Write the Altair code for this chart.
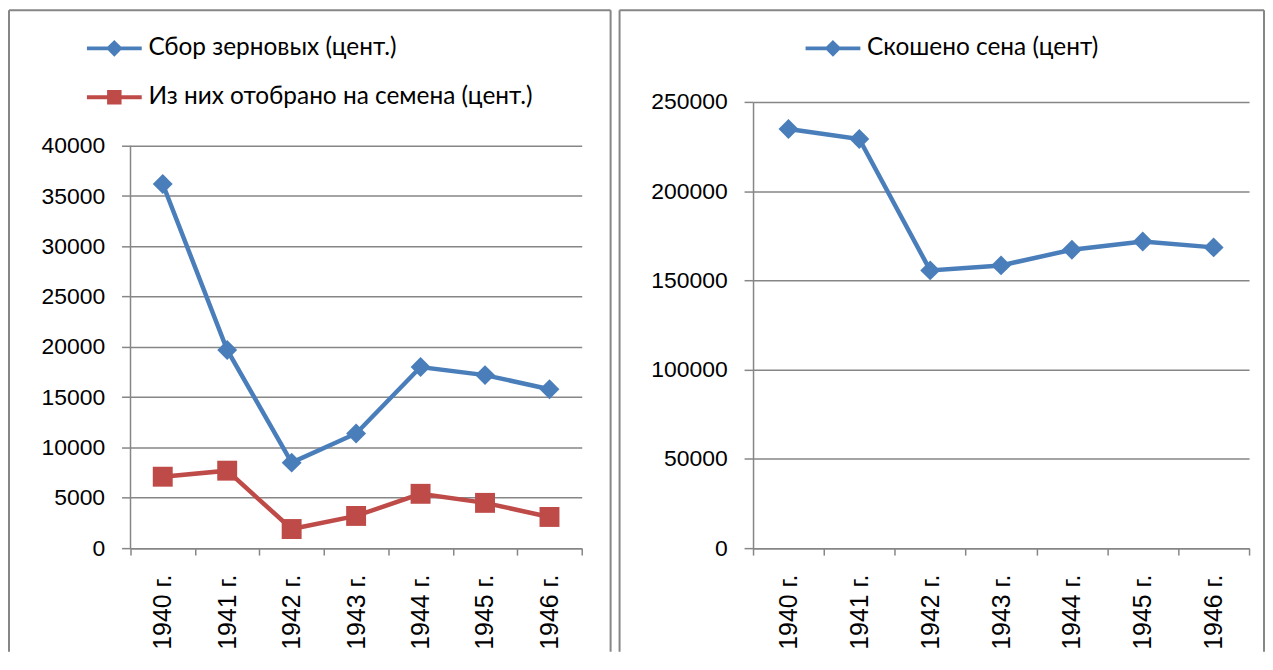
import altair as alt
import pandas as pd

# ---- data ----
years = ["1940 г.", "1941 г.", "1942 г.", "1943 г.", "1944 г.", "1945 г.", "1946 г."]
grain = [36200, 19700, 8500, 11400, 18000, 17200, 15800]
seeds = [7100, 7700, 1900, 3200, 5400, 4500, 3100]
hay = [234800, 229200, 155600, 158400, 167200, 171800, 168500]

s_grain = "Сбор зерновых (цент.)"
s_seeds = "Из них отобрано на семена (цент.)"
s_hay = "Скошено сена (цент)"

left_ticks = [0, 5000, 10000, 15000, 20000, 25000, 30000, 35000, 40000]
right_ticks = [0, 50000, 100000, 150000, 200000, 250000]
left_axis_top = 40000
# the left plot is drawn on the same 448px height as the right one; its scale
# tops out above 40000 so that 40000 sits 404px above zero, as in the picture
left_scale_max = 44356
right_scale_max = 250000

# ---- styles ----
BLUE = "#4A7EBB"
RED = "#BE4B48"
GRID = "#868686"
AXIS_FONT = "Liberation Sans"
LEG_FONT = "Lato"

P_DIAMOND = "M-3.93,0H3.93M0,-0.8L0.8,0L0,0.8L-0.8,0Z"
P_SQUARE = "M-3.93,0H3.93M-0.75,-0.75H0.75V0.75H-0.75Z"

frame_df = pd.DataFrame({"f": [0]})


def x_enc():
    return alt.X(
        "year:N", sort=years, bandPosition=0.5,
        scale=alt.Scale(type="band", paddingInner=0, paddingOuter=0),
        axis=alt.Axis(title=None, labelAngle=270, tickBand="extent", tickSize=7,
                      labelPadding=19, grid=False, labelFont=AXIS_FONT,
                      labelFontSize=25, labelColor="black", domainColor=GRID,
                      tickColor=GRID, labelOverlap=False),
    )


def y_enc(maxv, ticks, domain=True):
    return alt.Y(
        "value:Q",
        scale=alt.Scale(domain=[0, maxv], nice=False, zero=True),
        axis=alt.Axis(title=None, values=ticks, format="d", tickSize=9,
                      labelPadding=17, grid=True, gridColor=GRID, domain=domain,
                      domainColor=GRID, tickColor=GRID, labelFont=AXIS_FONT,
                      labelFontSize=23, labelColor="black"),
    )


def frame(left, right, top, bottom):
    base = alt.Chart(frame_df)
    top_r = base.mark_rule(color=GRID, strokeWidth=2).encode(
        x=alt.value(left), x2=alt.value(right), y=alt.value(top))
    l_r = base.mark_rule(color=GRID, strokeWidth=2).encode(
        x=alt.value(left), y=alt.value(top), y2=alt.value(bottom))
    r_r = base.mark_rule(color=GRID, strokeWidth=2).encode(
        x=alt.value(right), y=alt.value(top), y2=alt.value(bottom))
    return top_r + l_r + r_r


def series(values, name, col, shape, path, maxv, ticks, lx, ly, domain=True):
    df = pd.DataFrame({"year": years, "value": values, "series": [name] * len(years)})
    line = alt.Chart(df).mark_line(color=col, strokeWidth=4.5).encode(
        x=x_enc(), y=y_enc(maxv, ticks, domain))
    leg = alt.Legend(
        orient="none", legendX=lx, legendY=ly, direction="vertical", title=None,
        symbolType=path, symbolSize=196, symbolFillColor=col,
        symbolStrokeColor=col, symbolStrokeWidth=4, symbolOpacity=1,
        labelOffset=22, labelFont=LEG_FONT, labelFontSize=24.5,
        labelColor="black", padding=0, labelLimit=0)
    pts = alt.Chart(df).mark_point(filled=True, size=400, opacity=1, shape=shape).encode(
        x=x_enc(), y=y_enc(maxv, ticks, domain),
        color=alt.Color("series:N", scale=alt.Scale(domain=[name], range=[col]),
                        legend=leg))
    return line + pts


left_axis_line = alt.Chart(frame_df).mark_rule(color=GRID, strokeWidth=1.5).encode(
    x=alt.value(0), y=alt.datum(0), y2=alt.datum(left_axis_top))

left = alt.layer(
    frame(-122, 482, -92, 552),
    left_axis_line,
    series(grain, s_grain, BLUE, "diamond", P_DIAMOND, left_scale_max, left_ticks,
           -28.5, -66, domain=False),
    series(seeds, s_seeds, RED, "square", P_SQUARE, left_scale_max, left_ticks,
           -28.5, -17, domain=False),
).resolve_scale(color="independent").properties(width=453, height=448)

right = alt.layer(
    frame(-134, 513, -92, 552),
    series(hay, s_hay, BLUE, "diamond", P_DIAMOND, right_scale_max, right_ticks,
           693, -66),
).properties(width=498, height=448)

chart = alt.hconcat(left, right, spacing=7).configure(padding=0).configure_view(
    stroke=None).configure_axis(domainWidth=1.5, gridWidth=1.5, tickWidth=1.5)

chart.save("out.html", embed_options={"renderer": "svg", "actions": False})
